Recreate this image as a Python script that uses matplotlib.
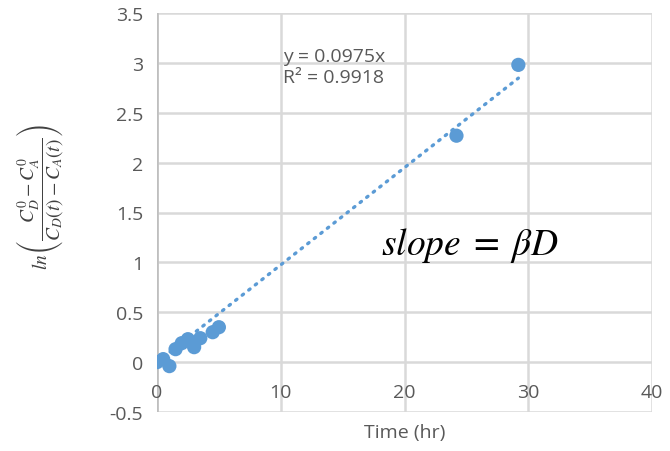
import numpy as np
import matplotlib
matplotlib.use("Agg")
import matplotlib.pyplot as plt
from matplotlib.transforms import blended_transform_factory

# measured points, time in hours vs. log concentration ratio
time_hr = [0, 0.5, 1, 1.5, 2, 2.5, 3, 3.5, 4.5, 5, 24.2, 29.2]
ln_ratio = [0, 0.03, -0.04, 0.13, 0.19, 0.23, 0.15, 0.24, 0.3, 0.35, 2.27, 2.98]

slope = 0.0975
r2 = 0.9918

xticks = [0, 10, 20, 30, 40]
yticks = [-0.5, 0, 0.5, 1, 1.5, 2, 2.5, 3, 3.5]

plt.rcParams['font.family'] = ['Open Sans', 'DejaVu Sans']
plt.rcParams['mathtext.fontset'] = 'stix'

blue = '#5b9bd5'
grid = '#d9d9d9'
txt = '#595959'

fig = plt.figure(figsize=(6.7, 4.52), dpi=100)
ax = fig.add_axes([157/670, 1-413/452, (652-157)/670, (413-14)/452])
ax.set_xlim(0, 40)
ax.set_ylim(-0.5, 3.5)

for v in yticks:
    ax.axhline(v, color=grid, lw=1.8, zorder=0)
for v in xticks:
    ax.axvline(v, color=grid, lw=1.8, zorder=0)
for s in ax.spines.values():
    s.set_visible(False)
ax.axvline(0, color='#bfbfbf', lw=1.8, zorder=1)

# trendline forced through the origin
xs = np.array([0, max(time_hr)])
ax.plot(xs, slope*xs, linestyle=(0, (0.5, 2.0)), color=blue, lw=2.4,
        dash_capstyle='round', zorder=2)
ax.scatter(time_hr, ln_ratio, s=105, color=blue, edgecolors='none', zorder=3)

ax.set_xticks([])
ax.set_yticks(yticks)
ax.set_yticklabels(['-0.5', '0', '0.5', '1', '1.5', '2', '2.5', '3', '3.5'])
ax.tick_params(axis='y', length=0, pad=10, labelsize=14, labelcolor=txt)

# x labels sit just under the zero line
trans = blended_transform_factory(ax.transData, ax.transAxes)
for v in xticks:
    ax.text(v, 0.05, str(v), transform=trans, ha='center', va='center',
            fontsize=14, color=txt)

ax.text(20, -0.05, 'Time (hr)', transform=trans, ha='center', va='center',
        fontsize=14, color=txt)

fig.text(40/670, 1-197/452,
         r'$ln\left(\dfrac{C_D^0 - C_A^0}{C_D(t) - C_A(t)}\right)$',
         rotation=90, ha='center', va='center', fontsize=14, color='#404040')

ax.text(10.2, 2.96, 'y = 0.0975x\nR² = 0.9918', ha='left', va='center',
        fontsize=14, color=txt, linespacing=1.2)

ax.text(18.1, 1.18, r'$slope\;=\;\beta D$', ha='left', va='center',
        fontsize=27, color='black')

fig.savefig('out.png', dpi=100)
